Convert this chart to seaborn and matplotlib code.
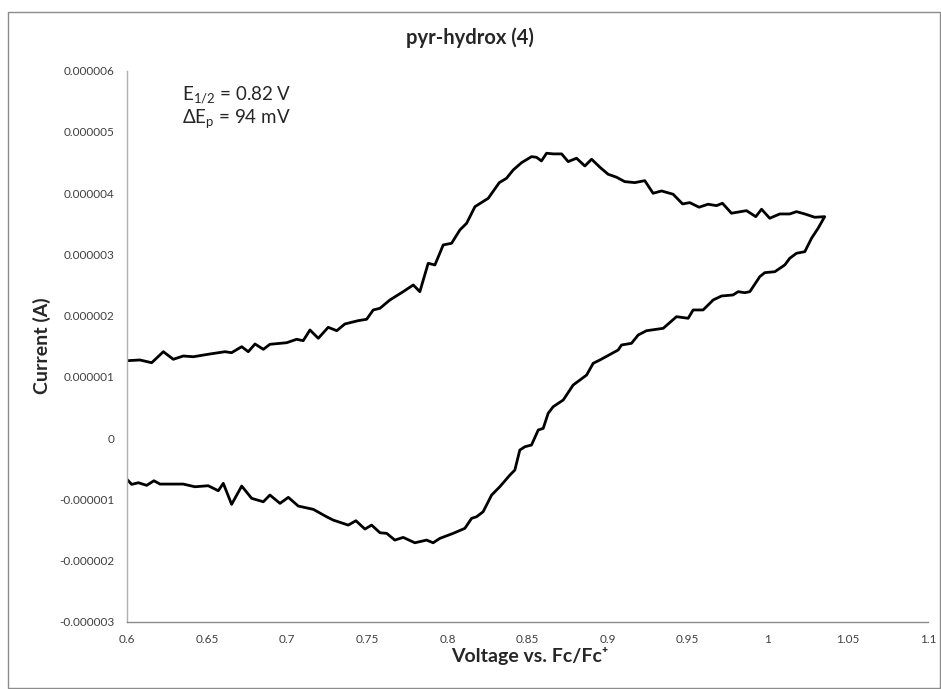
import numpy as np
import pandas as pd
import matplotlib
matplotlib.use("Agg")
import matplotlib.pyplot as plt
from matplotlib import font_manager
from matplotlib.patches import Rectangle
import seaborn as sns

# ---- data ----
fwd_voltage = [0.600, 0.6081, 0.6154, 0.6227, 0.6289, 0.6351, 0.6414, 0.6518, 0.6612, 0.6653,
               0.6716, 0.6757, 0.6799, 0.6851, 0.6892, 0.6997, 0.7059, 0.7100, 0.7142, 0.7194,
               0.7256, 0.7309, 0.7360, 0.7443, 0.7496, 0.7537, 0.7579, 0.7641, 0.7724, 0.7787,
               0.7828, 0.7880, 0.7922, 0.7974, 0.8026, 0.8078, 0.8120, 0.8172, 0.8255, 0.8324,
               0.8369, 0.8411, 0.8463, 0.8525, 0.8556, 0.8587, 0.8619, 0.8660, 0.8713, 0.8754,
               0.8806, 0.8858, 0.8900, 0.8952, 0.9003, 0.9056, 0.9107, 0.9170, 0.9232, 0.9284,
               0.9337, 0.9409, 0.9468, 0.9513, 0.9571, 0.9627, 0.9680, 0.9717, 0.9773, 0.9867,
               0.9925, 0.9961, 1.0012, 1.0075, 1.0137, 1.0179, 1.0231, 1.0293, 1.0355]
fwd_current_uA = [1.263, 1.275, 1.230, 1.410, 1.286, 1.340, 1.328, 1.373, 1.410, 1.394,
                  1.492, 1.410, 1.536, 1.449, 1.531, 1.557, 1.613, 1.590, 1.765, 1.629,
                  1.809, 1.753, 1.863, 1.917, 1.940, 2.092, 2.119, 2.255, 2.391, 2.500,
                  2.391, 2.854, 2.827, 3.154, 3.181, 3.399, 3.508, 3.779, 3.916, 4.172,
                  4.243, 4.379, 4.498, 4.596, 4.586, 4.526, 4.652, 4.641, 4.641, 4.515,
                  4.570, 4.444, 4.554, 4.423, 4.309, 4.260, 4.188, 4.172, 4.204, 3.998,
                  4.036, 3.982, 3.824, 3.845, 3.770, 3.819, 3.796, 3.835, 3.672, 3.714,
                  3.616, 3.737, 3.590, 3.660, 3.660, 3.698, 3.660, 3.606, 3.616]

rev_voltage = [1.0314, 1.0273, 1.0231, 1.0179, 1.0137, 1.0106, 1.0044, 0.9981, 0.9950, 0.9888,
               0.9856, 0.9815, 0.9783, 0.9711, 0.9659, 0.9596, 0.9534, 0.9503, 0.9430, 0.9347,
               0.9243, 0.9191, 0.9149, 0.9087, 0.9066, 0.8952, 0.8910, 0.8869, 0.8827, 0.8785,
               0.8723, 0.8660, 0.8629, 0.8598, 0.8567, 0.8525, 0.8484, 0.8452, 0.8421, 0.8390,
               0.8327, 0.8276, 0.8223, 0.8182, 0.8151, 0.8109, 0.8036, 0.7953, 0.7911, 0.7870,
               0.7797, 0.7724, 0.7672, 0.7621, 0.7579, 0.7527, 0.7485, 0.7429, 0.7381, 0.7287,
               0.7246, 0.7163, 0.7069, 0.7007, 0.6955, 0.6892, 0.6851, 0.6778, 0.6716, 0.6653,
               0.6601, 0.6570, 0.6507, 0.6424, 0.6351, 0.6206, 0.6168, 0.6123, 0.6071, 0.6029,
               0.600]
rev_current_uA = [3.426, 3.263, 3.044, 3.018, 2.936, 2.827, 2.717, 2.701, 2.636, 2.391,
                  2.374, 2.391, 2.337, 2.320, 2.255, 2.092, 2.092, 1.956, 1.982, 1.792,
                  1.753, 1.683, 1.547, 1.520, 1.438, 1.275, 1.221, 1.029, 0.948, 0.866,
                  0.621, 0.511, 0.404, 0.158, 0.131, -0.114, -0.142, -0.196, -0.523, -0.605,
                  -0.796, -0.931, -1.204, -1.286, -1.312, -1.475, -1.557, -1.639, -1.711, -1.667,
                  -1.711, -1.623, -1.667, -1.557, -1.547, -1.422, -1.487, -1.351, -1.422, -1.340,
                  -1.286, -1.165, -1.111, -0.969, -1.067, -0.931, -1.041, -0.985, -0.784, -1.083,
                  -0.740, -0.861, -0.779, -0.796, -0.752, -0.752, -0.698, -0.773, -0.730, -0.757,
                  -0.675]

x_ticks = [0.6, 0.65, 0.7, 0.75, 0.8, 0.85, 0.9, 0.95, 1.0, 1.05, 1.1]
x_tick_labels = ["0.6", "0.65", "0.7", "0.75", "0.8", "0.85", "0.9", "0.95", "1", "1.05", "1.1"]
y_ticks = [-0.000003, -0.000002, -0.000001, 0, 0.000001, 0.000002, 0.000003, 0.000004, 0.000005, 0.000006]
y_tick_labels = ["-0.000003", "-0.000002", "-0.000001", "0", "0.000001", "0.000002",
                 "0.000003", "0.000004", "0.000005", "0.000006"]

title = "pyr-hydrox (4)"
x_label = "Voltage vs. Fc/Fc\u207a"
y_label = "Current (A)"

# ---- build table ----
df = pd.DataFrame({
    "voltage": fwd_voltage + rev_voltage,
    "current": [v * 1e-6 for v in fwd_current_uA + rev_current_uA],
})

sns.set_theme(style="white")
available = {f.name for f in font_manager.fontManager.ttflist}
main_font = "Lato" if "Lato" in available else "DejaVu Sans"
tick_font = "Liberation Sans Narrow" if "Liberation Sans Narrow" in available else main_font
plt.rcParams["font.family"] = [main_font, "DejaVu Sans"]
plt.rcParams["mathtext.fontset"] = "custom"
plt.rcParams["mathtext.rm"] = main_font
plt.rcParams["mathtext.it"] = main_font
plt.rcParams["mathtext.bf"] = main_font + ":bold"

W, H = 941, 689
fig = plt.figure(figsize=(W / 100, H / 100), dpi=100)
fig.patch.set_facecolor("white")
ax = fig.add_axes([127 / W, 1 - 621.7 / H, (928 - 127) / W, (621.7 - 70.7) / H])

sns.lineplot(data=df, x="voltage", y="current", sort=False, estimator=None,
             color="black", linewidth=2.0, ax=ax)
for ln in ax.lines:
    ln.set_solid_joinstyle("round")
    ln.set_solid_capstyle("round")

ax.set_xlim(0.6, 1.1)
ax.set_ylim(-0.000003, 0.000006)
ax.set_xticks(x_ticks)
ax.set_xticklabels(x_tick_labels, family=[tick_font, "DejaVu Sans"], fontsize=8.5, color="#404040")
ax.set_yticks(y_ticks)
ax.set_yticklabels(y_tick_labels, family=[tick_font, "DejaVu Sans"], fontsize=8.5, color="#404040")
ax.tick_params(axis="both", length=0)
ax.tick_params(axis="x", pad=9)
ax.tick_params(axis="y", pad=9)
ax.set_xlabel("")
ax.set_ylabel("")
ax.grid(False)
for s in ["top", "right"]:
    ax.spines[s].set_visible(False)
ax.spines["left"].set_color("#b0b0b0")
ax.spines["bottom"].set_color("#8a8a8a")
ax.spines["left"].set_linewidth(1.0)
ax.spines["bottom"].set_linewidth(1.0)

fig.text(470 / W, 1 - 38 / H, title, ha="center", va="center", fontsize=14.5, fontweight="bold")
fig.text(530 / W, 1 - 656 / H, x_label, ha="center", va="center", fontsize=14,
         fontweight="bold", family=[main_font, "DejaVu Sans"])
fig.text(42 / W, 1 - 346 / H, y_label, ha="center", va="center", rotation=90,
         fontsize=14, fontweight="bold")

fig.text(182 / W, 1 - 101 / H, r"E$_{1/2}$ = 0.82 V", ha="left", va="baseline", fontsize=13.5)
fig.text(182 / W, 1 - 123 / H, r"ΔE$_{\mathrm{p}}$ = 94 mV", ha="left", va="baseline", fontsize=13.5)

fig.patches.append(Rectangle((8 / W, 1 - 688 / H), (940 - 8) / W, (688 - 12) / H,
                             transform=fig.transFigure, fill=False,
                             edgecolor="#8c8c8c", linewidth=1.0))

fig.savefig("out.png", dpi=100, facecolor="white")
